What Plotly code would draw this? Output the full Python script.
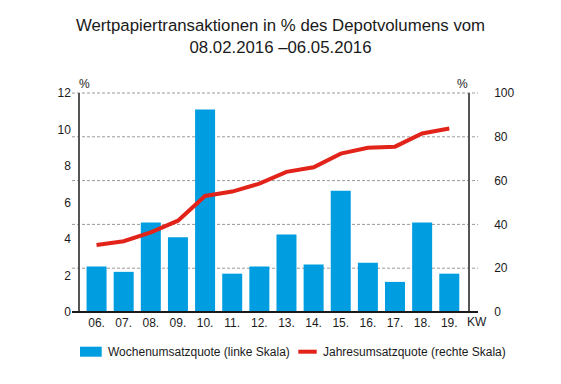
import plotly.graph_objects as go

weeks = ["06.", "07.", "08.", "09.", "10.", "11.", "12.", "13.", "14.", "15.", "16.", "17.", "18.", "19."]
wochen = [2.5, 2.2, 4.9, 4.1, 11.1, 2.1, 2.5, 4.25, 2.6, 6.65, 2.7, 1.65, 4.9, 2.1]
jahres = [30.6, 32.3, 36.4, 41.7, 53.0, 55.0, 58.6, 64.0, 66.1, 72.3, 75.0, 75.5, 81.5, 83.8]
left_ticks = [0, 2, 4, 6, 8, 10, 12]
right_ticks = [0, 20, 40, 60, 80, 100]
bar_name = "Wochenumsatzquote (linke Skala)"
line_name = "Jahresumsatzquote (rechte Skala)"

BLUE = "#009ee0"
RED = "#e2231a"
FONT = "Liberation Sans, Arial, sans-serif"

# page has an 8px body margin: figure sized to fit the window
W, H = 545, 368
L, T = 72, 85
pw, ph = 388, 219
R = W - L - pw
B = H - T - ph


def px(fx):
    return (fx - L) / pw


def py(fy):
    return (T + ph - fy) / ph


fig = go.Figure()
fig.add_trace(go.Bar(
    x=weeks, y=wochen, name=bar_name,
    marker=dict(color=BLUE, line=dict(width=0)), yaxis="y",
))
fig.add_trace(go.Scatter(
    x=weeks, y=jahres, name=line_name,
    mode="lines", line=dict(color=RED, width=4), yaxis="y2",
))

shapes = []
for t in right_ticks[1:]:
    shapes.append(dict(type="line", xref="paper", yref="paper",
                       x0=-8 / pw, x1=1 + 10 / pw, y0=t / right_ticks[-1], y1=t / right_ticks[-1],
                       line=dict(color="#9a9a9a", width=1, dash="3px,2px"), layer="below"))
shapes.append(dict(type="line", xref="paper", yref="paper",
                   x0=-8 / pw, x1=1 + 10 / pw, y0=0, y1=0,
                   line=dict(color="#1a1a1a", width=2), layer="above"))
# legend keys
shapes.append(dict(type="rect", xref="paper", yref="paper",
                   x0=px(72), x1=px(93.7), y0=py(348.7), y1=py(338.7),
                   fillcolor=BLUE, line=dict(width=0)))
shapes.append(dict(type="line", xref="paper", yref="paper",
                   x0=px(290.3), x1=px(308.7), y0=py(343.7), y1=py(343.7),
                   line=dict(color=RED, width=4)))

fig.update_layout(
    width=W, height=H,
    margin=dict(l=L, r=R, t=T, b=B),
    paper_bgcolor="white", plot_bgcolor="white",
    font=dict(family=FONT, size=12, color="#1a1a1a"),
    title=dict(text="Wertpapiertransaktionen in % des Depotvolumens vom<br>08.02.2016 \u201306.05.2016",
               x=0.5, xanchor="center", y=1 - 23 / H, yanchor="top", yref="container",
               font=dict(family=FONT, size=16.8, color="#1a1a1a")),
    bargap=0.263,
    xaxis=dict(type="category", range=[-0.61, 13.69], showgrid=False, showline=False,
               ticks="", zeroline=False, ticklabelstandoff=2, fixedrange=True),
    yaxis=dict(range=[0, 12], tickvals=left_ticks, showgrid=False, zeroline=False,
               showline=True, linecolor="#555555", linewidth=1.5, ticks="",
               ticklabelstandoff=5),
    yaxis2=dict(range=[0, 100], tickvals=right_ticks, overlaying="y", side="right",
                showgrid=False, zeroline=False, showline=True, linecolor="#555555",
                linewidth=1.5, ticks="", ticklabelstandoff=22),
    showlegend=False,
    shapes=shapes,
    annotations=[
        dict(text="%", xref="paper", yref="paper", x=4.5 / pw, y=1 + 9 / ph,
             showarrow=False, xanchor="center", yanchor="middle", font=dict(size=12)),
        dict(text="%", xref="paper", yref="paper", x=1 - 5.5 / pw, y=1 + 9 / ph,
             showarrow=False, xanchor="center", yanchor="middle", font=dict(size=12)),
        dict(text="KW", xref="paper", yref="paper", x=1 + 9 / pw, y=-10 / ph,
             showarrow=False, xanchor="center", yanchor="middle", font=dict(size=12)),
        dict(text=bar_name, xref="paper", yref="paper", x=px(99.3), y=py(343.7),
             showarrow=False, xanchor="left", yanchor="middle", borderpad=0, font=dict(size=12)),
        dict(text=line_name, xref="paper", yref="paper", x=px(314.3), y=py(343.7),
             showarrow=False, xanchor="left", yanchor="middle", borderpad=0, font=dict(size=12)),
    ],
)

fig.write_html("out.html")
